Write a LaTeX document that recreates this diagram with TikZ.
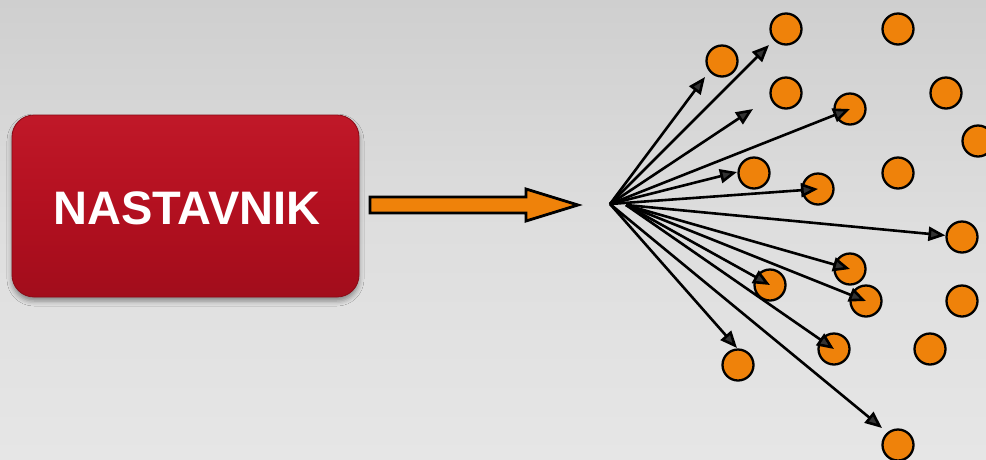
\documentclass[tikz,border=0pt]{standalone}
\usepackage{fontspec}
\setmainfont{Liberation Sans}
\usetikzlibrary{arrows.meta,shadows.blur}

\definecolor{bgtop}{HTML}{CFCFCF}
\definecolor{bgmid}{HTML}{DEDEDE}
\definecolor{bgbot}{HTML}{E6E6E6}
\definecolor{dotorange}{HTML}{EF820A}
\definecolor{rbA}{HTML}{7E0510}
\definecolor{rbB}{HTML}{960A18}
\definecolor{rbC}{HTML}{B31020}
\definecolor{rbD}{HTML}{C61C2C}
\definecolor{rbE}{HTML}{DC3444}
\definecolor{rbEdge}{HTML}{8A0A16}

% red button: dark at the bottom, bright rim at the top
\pgfdeclareverticalshading{redbutton}{100bp}{%
  color(0bp)=(rbA); color(8bp)=(rbB); color(50bp)=(rbC);
  color(86bp)=(rbD); color(94bp)=(rbE); color(100bp)=(rbD)}

\tikzset{
  dot/.style={circle, draw=black, line width=2.3pt, fill=dotorange,
    minimum size=31pt, inner sep=0pt},
  ray/.style={line width=2.6pt, -{Triangle[length=17pt,width=14pt]}},
  button/.style={rounded corners=22pt, shading=redbutton,
    draw=rbEdge, line width=0.8pt,
    blur shadow={shadow xshift=0pt, shadow yshift=-4pt,
      shadow blur radius=5pt, shadow opacity=40}},
  push/.style={fill=dotorange, draw=black, line width=2.8pt, line join=miter},
}

\begin{document}
\begin{tikzpicture}[x=1pt,y=-1pt]
  % background
  \fill[top color=bgtop, bottom color=bgbot, middle color=bgmid]
    (0,0) rectangle (986,459);
  \useasboundingbox (0,0) rectangle (986,459);

  % teacher button
  \path[button] (12,115) rectangle (359,297);
  \node[text=white, font=\bfseries\fontsize{47}{47}\selectfont]
    (teacher) at (187,208) {NASTAVNIK};

  % block arrow
  \path[push] (370,197) -- (526,197) -- (526,189) -- (578,205)
    -- (526,221) -- (526,213) -- (370,213) -- cycle;

  % origins of the rays
  \coordinate (o) at (610,204);
  \coordinate (p) at (626,205);

  % orange dots
  \node[dot] (d1)  at (722,61)  {};
  \node[dot] (d2)  at (786,29)  {};
  \node[dot] (d3)  at (898,29)  {};
  \node[dot] (d4)  at (786,93)  {};
  \node[dot] (d5)  at (850,109) {};
  \node[dot] (d6)  at (946,93)  {};
  \node[dot] (d7)  at (978,141) {};
  \node[dot] (d8)  at (754,173) {};
  \node[dot] (d9)  at (818,189) {};
  \node[dot] (d10) at (898,173) {};
  \node[dot] (d11) at (962,237) {};
  \node[dot] (d12) at (850,269) {};
  \node[dot] (d13) at (770,285) {};
  \node[dot] (d14) at (866,301) {};
  \node[dot] (d15) at (962,301) {};
  \node[dot] (d16) at (834,349) {};
  \node[dot] (d17) at (930,349) {};
  \node[dot] (d18) at (738,365) {};
  \node[dot] (d19) at (898,445) {};

  % free ends of rays
  \coordinate (t1)  at (705,77);
  \coordinate (t2)  at (769,45);
  \coordinate (t3)  at (753,109);
  \coordinate (t5)  at (737,172);
  \coordinate (t12) at (737,348);
  \coordinate (t13) at (882,428);

  % rays
  \draw[ray] (o) -- (t1);
  \draw[ray] (o) -- (t2);
  \draw[ray] (o) -- (t3);
  \draw[ray] (o) -- (d5.center);
  \draw[ray] (o) -- (t5);
  \draw[ray] (o) -- (d9.center);
  \draw[ray] (p) -- (d11);
  \draw[ray] (p) -- (d12.center);
  \draw[ray] (p) -- (d13.center);
  \draw[ray] (p) -- (d14.center);
  \draw[ray] (p) -- (d16.center);
  \draw[ray] (o) -- (t12);
  \draw[ray] (o) -- (t13);
\end{tikzpicture}
\end{document}
